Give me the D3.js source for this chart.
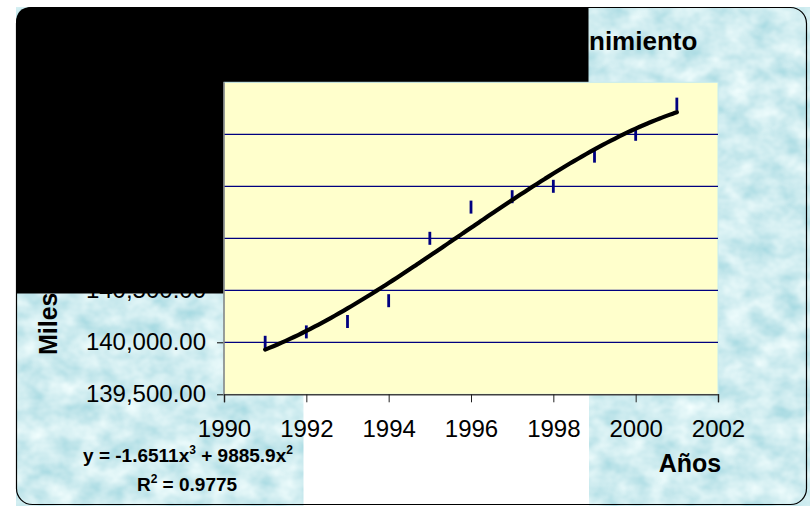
<!DOCTYPE html>
<html>
<head>
<meta charset="utf-8">
<script src="https://cdn.jsdelivr.net/npm/d3@7"></script>
<style>
  html, body { margin: 0; padding: 0; background: #ffffff; }
  svg { display: block; }
  text { font-family: Arial, "Liberation Sans", sans-serif; }
</style>
</head>
<body>
<svg id="chart" width="810" height="506"></svg>
<script>
// Population per year (thousands)
const years = [1991, 1992, 1993, 1994, 1995, 1996, 1997, 1998, 1999, 2000, 2001];
const values = [140000, 140100, 140200, 140400, 141000, 141300, 141400, 141500, 141790, 142000, 142290];
const xTicks = [1990, 1992, 1994, 1996, 1998, 2000, 2002];
const yTicks = [139500, 140000, 140500, 141000, 141500, 142000, 142500];
const gridValues = [140000, 140500, 141000, 141500, 142000];
const titleText = "nimiento";
const yTitleText = "Miles";
const xTitleText = "Años";
const equationText = ["y = -1.6511x", "3", " + 9885.9x", "2"];
const r2Text = ["R", "2", " = 0.9775"];

const svg = d3.select("#chart");
const plot = { left: 224, right: 718, top: 82.3, bottom: 394.3 };

const x = d3.scaleLinear().domain([1990, 2002]).range([plot.left, plot.right]);
const y = d3.scaleLinear().domain([139500, 142500]).range([plot.bottom, plot.top]);

// Least-squares polynomial (cubic) trend, x centred for stability
function polyfit(xs, ys, deg) {
  const n = deg + 1;
  const A = Array.from({ length: n }, () => new Array(n + 1).fill(0));
  xs.forEach((xv, k) => {
    for (let i = 0; i < n; i++) {
      for (let j = 0; j < n; j++) A[i][j] += Math.pow(xv, i + j);
      A[i][n] += ys[k] * Math.pow(xv, i);
    }
  });
  for (let c = 0; c < n; c++) {
    let p = c;
    for (let r = c + 1; r < n; r++) if (Math.abs(A[r][c]) > Math.abs(A[p][c])) p = r;
    [A[c], A[p]] = [A[p], A[c]];
    for (let r = 0; r < n; r++) {
      if (r === c) continue;
      const f = A[r][c] / A[c][c];
      for (let k = c; k <= n; k++) A[r][k] -= f * A[c][k];
    }
  }
  return A.map((row, i) => row[n] / A[i][i]);
}
const xc = d3.mean(years);
const coef = polyfit(years.map(v => v - xc), values, 3);
const trend = t => coef.reduce((s, c, i) => s + c * Math.pow(t - xc, i), 0);

// Background: water-drop texture
const defs = svg.append("defs");
const f = defs.append("filter").attr("id", "water")
  .attr("x", 0).attr("y", 0).attr("width", "100%").attr("height", "100%");
f.append("feTurbulence").attr("type", "fractalNoise")
  .attr("baseFrequency", "0.04 0.05").attr("numOctaves", 3).attr("seed", 7).attr("result", "n");
f.append("feColorMatrix").attr("in", "n").attr("type", "matrix")
  .attr("values", "0.65 0 0 0 0.30  0.38 0 0 0 0.65  0.3 0 0 0 0.72  0 0 0 0 1");

svg.append("rect").attr("x", 16).attr("y", 7).attr("width", 794).attr("height", 499)
  .attr("fill", "#9fd8e4");
svg.append("rect").attr("x", 16).attr("y", 7).attr("width", 794).attr("height", 499)
  .attr("filter", "url(#water)");

// White panel under the lower axis labels
svg.append("rect").attr("x", 303.5).attr("y", 395).attr("width", 285.5).attr("height", 111)
  .attr("fill", "#ffffff");

// Y axis labels (drawn before the dark panel)
const yAxis = d3.axisLeft(y).tickValues(yTicks).tickFormat(d3.format(",.2f"))
  .tickSize(7).tickPadding(11);
const gy = svg.append("g").attr("transform", `translate(${plot.left},0)`).call(yAxis);
gy.select(".domain").remove();
gy.selectAll(".tick line").attr("stroke", "#000000");
gy.selectAll(".tick text").attr("font-size", 24).attr("fill", "#000000")
  .attr("font-family", 'Arial, "Liberation Sans", sans-serif');

// Titles
svg.append("text").attr("x", 589).attr("y", 50).attr("font-size", 26)
  .attr("font-weight", "bold").text(titleText);
svg.append("text").attr("transform", "translate(56.5,355) rotate(-90)")
  .attr("font-size", 25).attr("font-weight", "bold").text(yTitleText);

// Dark panel with rounded top-left corner
const r = 16;
svg.append("path")
  .attr("d", `M16,${7 + r} Q16,7 ${16 + r},7 L588.5,7 L588.5,293.5 L16,293.5 Z`)
  .attr("fill", "#000000");

// Plot area
svg.append("rect").attr("x", plot.left).attr("y", plot.top)
  .attr("width", plot.right - plot.left).attr("height", plot.bottom - plot.top)
  .attr("fill", "#ffffcc").attr("stroke", "#c6ecee").attr("stroke-width", 1);

// Gridlines
svg.append("g").selectAll("line").data(gridValues).join("line")
  .attr("x1", plot.left).attr("x2", plot.right)
  .attr("y1", d => y(d)).attr("y2", d => y(d))
  .attr("stroke", "#000080").attr("stroke-width", 1.2);

// Left axis line
svg.append("line").attr("x1", plot.left).attr("x2", plot.left)
  .attr("y1", plot.top).attr("y2", plot.bottom)
  .attr("stroke", "#808080").attr("stroke-width", 1.5);

// X axis
const xAxis = d3.axisBottom(x).tickValues(xTicks).tickFormat(d3.format("d"))
  .tickSize(8).tickPadding(18);
const gx = svg.append("g").attr("transform", `translate(0,${plot.bottom})`).call(xAxis);
gx.select(".domain").attr("stroke", "#404040").attr("stroke-width", 1.5);
gx.selectAll(".tick line").attr("stroke", "#202020");
gx.selectAll(".tick text").attr("font-size", 24).attr("fill", "#000000")
  .attr("font-family", 'Arial, "Liberation Sans", sans-serif');

// Data markers: short vertical dashes
svg.append("g").selectAll("line").data(years).join("line")
  .attr("x1", d => x(d)).attr("x2", d => x(d))
  .attr("y1", (d, i) => y(values[i]) - 6.5).attr("y2", (d, i) => y(values[i]) + 6.5)
  .attr("stroke", "#000080").attr("stroke-width", 2.8);

// Polynomial trend line
const ts = d3.range(years[0], years[years.length - 1] + 0.001, 0.1);
svg.append("path").datum(ts)
  .attr("d", d3.line().x(t => x(t)).y(t => y(trend(t))).curve(d3.curveCatmullRom))
  .attr("fill", "none").attr("stroke", "#000000").attr("stroke-width", 4.2)
  .attr("stroke-linecap", "round");

// X title
svg.append("text").attr("x", 690).attr("y", 472).attr("text-anchor", "middle")
  .attr("font-size", 25).attr("font-weight", "bold").text(xTitleText);

// Trend equation and R squared
function supText(parts, cx, by) {
  const t = svg.append("text").attr("x", cx).attr("y", by).attr("text-anchor", "middle")
    .attr("font-size", 19).attr("font-weight", "bold");
  parts.forEach((p, i) => {
    const sup = i % 2 === 1;
    t.append("tspan").attr("font-size", sup ? 12 : 19)
      .attr("dy", sup ? -8 : (i > 0 ? 8 : 0)).text(p);
  });
}
supText(equationText, 188, 462);
supText(r2Text, 187, 491);

// Outer rounded border
svg.append("rect").attr("x", 16.5).attr("y", 7.5).attr("width", 790).attr("height", 497)
  .attr("rx", 16).attr("fill", "none").attr("stroke", "#000000").attr("stroke-width", 1.2);
</script>
</body>
</html>
